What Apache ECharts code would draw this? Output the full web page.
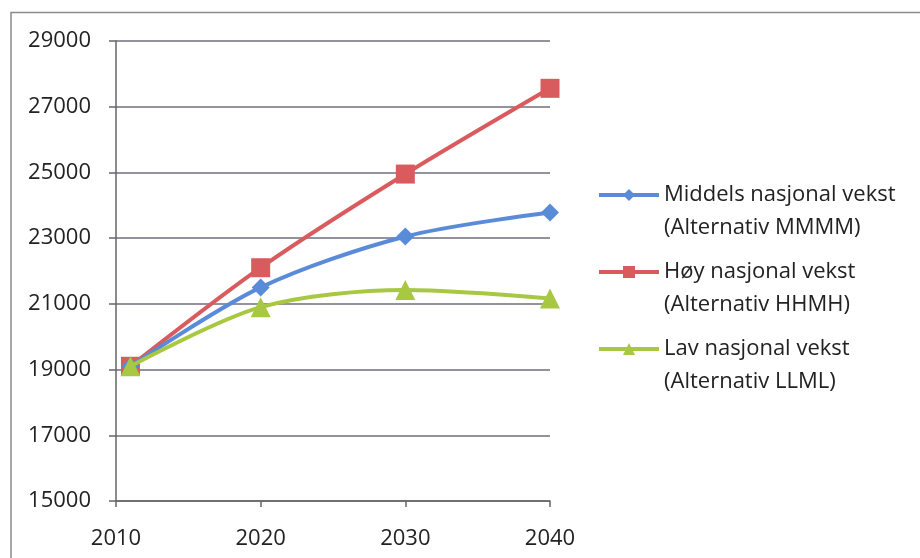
<!DOCTYPE html>
<html>
<head>
<meta charset="utf-8">
<script src="https://cdn.jsdelivr.net/npm/echarts@6/dist/echarts.min.js"></script>
<style>
	html, body { margin: 0; padding: 0; background: #fff; }
	#main { width: 920px; height: 558px; }
</style>
</head>
<body>
<div id="main"></div>
<script>
var years = [2011, 2020, 2030, 2040];
var seriesNames = [
	'Middels nasjonal vekst\n(Alternativ MMMM)',
	'Høy nasjonal vekst\n(Alternativ HHMH)',
	'Lav nasjonal vekst\n(Alternativ LLML)'
];
var middels = [19100, 21500, 23050, 23780];
var hoy = [19100, 22100, 24950, 27560];
var lav = [19100, 20900, 21420, 21160];
var yTicks = [15000, 29000, 2000]; // min, max, interval
var xTicks = [2010, 2040, 10];

var colors = ['#5a8bd8', '#d95b5e', '#a8c842'];
var symbols = ['diamond', 'rect', 'triangle'];
var symbolSizes = [18, 19, 20];

function pairs(vals) {
	var out = [];
	for(var i = 0; i < years.length; i++) {
		out.push([years[i], vals[i]]);
	}
	return out;
}

var allVals = [middels, hoy, lav];
var series = [];
for(var s = 0; s < 3; s++) {
	series.push({
		name: seriesNames[s],
		type: 'line',
		smooth: 0.3,
		symbol: symbols[s],
		symbolSize: symbolSizes[s],
		z: s == 2 ? 4 : (s == 0 ? 3 : 2),
		lineStyle: { width: 4, color: colors[s] },
		itemStyle: { color: colors[s] },
		data: pairs(allVals[s])
	});
}

var myChart = echarts.init(document.getElementById('main'));
var option = {
	animation: false,
	textStyle: { fontFamily: 'Open Sans' },
	graphic: [{
		type: 'polyline',
		shape: { points: [[11, 560], [11, 12.5], [920, 12.5]] },
		style: { stroke: '#8a8a8a', lineWidth: 1.5, fill: null }
	}],
	grid: {
		left: 116,
		right: 370,
		top: 41,
		bottom: 57
	},
	legend: {
		orient: 'vertical',
		left: 597,
		top: 151,
		padding: 0,
		itemGap: -11,
		itemWidth: 60,
		itemHeight: 15,
		data: seriesNames,
		lineStyle: { width: 4 },
		// blank first line keeps the icon level with the first text line
		formatter: function(name) {
			var parts = name.split('\n');
			return '{s| }\n{t|' + parts[0] + '}\n{t|' + parts[1] + '}';
		},
		textStyle: {
			fontFamily: 'Open Sans',
			fontSize: 22,
			color: '#222',
			rich: {
				s: { lineHeight: 33, fontSize: 22 },
				t: { lineHeight: 33, fontSize: 22, color: '#222', fontFamily: 'Open Sans' }
			}
		}
	},
	xAxis: {
		type: 'value',
		min: xTicks[0],
		max: xTicks[1],
		interval: xTicks[2],
		axisLine: { show: true, lineStyle: { color: '#666', width: 1.5 } },
		axisTick: { show: true, length: 6, lineStyle: { color: '#666', width: 1.5 } },
		splitLine: { show: false },
		axisLabel: {
			fontSize: 22, color: '#222', margin: 27, fontFamily: 'Open Sans',
			formatter: function(v) { return String(v); }
		}
	},
	yAxis: {
		type: 'value',
		min: yTicks[0],
		max: yTicks[1],
		interval: yTicks[2],
		axisLine: { show: true, lineStyle: { color: '#666', width: 1.5 } },
		axisTick: { show: true, length: 7, lineStyle: { color: '#666', width: 1.5 } },
		splitLine: { show: true, lineStyle: { color: '#6f6f80', width: 1.5 } },
		axisLabel: {
			fontSize: 22, color: '#222', margin: 25, fontFamily: 'Open Sans',
			formatter: function(v) { return String(v); }
		}
	},
	series: series
};
myChart.setOption(option);
</script>
</body>
</html>
